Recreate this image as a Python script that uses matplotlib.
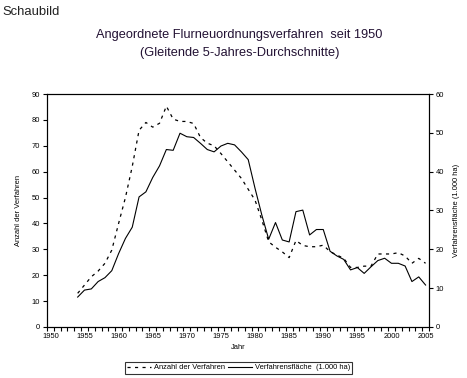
import numpy as np
import matplotlib
matplotlib.use("Agg")
import matplotlib.pyplot as plt

plt.rcParams['font.family'] = ['Liberation Sans', 'DejaVu Sans']

# Gleitende 5-Jahres-Durchschnitte
jahre = list(range(1954, 2006))
anzahl = [13.0, 16.2, 19.4, 21.6, 24.6, 29.7, 40.0, 50.0, 62.0, 76.0,
          79.0, 77.2, 78.7, 85.3, 80.3, 79.4, 79.4, 78.6, 73.2, 71.0,
          70.0, 67.0, 63.8, 60.6, 57.4, 53.2, 49.0, 41.3, 32.9, 30.8,
          29.0, 26.8, 33.4, 31.5, 31.0, 31.0, 31.6, 29.1, 27.8, 26.5,
          23.0, 23.0, 23.5, 23.5, 28.2, 28.2, 28.2, 28.7, 27.4, 24.6,
          26.5, 24.6]
flaeche = [7.7, 9.5, 9.8, 11.7, 12.7, 14.5, 18.9, 22.8, 25.7, 33.5,
           34.8, 38.5, 41.5, 45.7, 45.5, 49.9, 49.0, 48.8, 47.3, 45.7,
           45.1, 46.6, 47.3, 46.9, 45.1, 43.1, 35.7, 28.8, 22.6, 26.9,
           22.4, 21.9, 29.7, 30.1, 23.7, 25.1, 25.1, 19.5, 18.3, 17.4,
           14.7, 15.3, 13.8, 15.5, 17.1, 17.7, 16.4, 16.4, 15.7, 11.7,
           12.9, 10.8]
xlabels = list(range(1950, 2006, 5))

fig = plt.figure(figsize=(4.67, 3.78), dpi=100)
ax = fig.add_axes([0.1006, 0.135, 0.8180, 0.6163])
ax2 = ax.twinx()

l1, = ax.plot(jahre, anzahl, color='black', lw=0.9, dashes=(2.5, 3.5),
              label='Anzahl der Verfahren')
l2, = ax2.plot(jahre, flaeche, color='black', lw=0.8,
               label='Verfahrensfläche (1.000 ha)')

ax.set_xlim(1949.5, 2005.5)
ax.set_ylim(0, 90)
ax2.set_ylim(0, 60)
ax.set_yticks(range(0, 91, 10))
ax2.set_yticks(range(0, 61, 10))
ax.set_xticks(xlabels)
ax.set_xticks(np.arange(1949.5, 2006, 1), minor=True)

tf = 5.4
ax.tick_params(axis='x', which='major', length=0, labelsize=tf, pad=4)
ax.tick_params(axis='x', which='minor', length=3, width=0.8, direction='out')
ax.tick_params(axis='y', length=3, width=0.8, labelsize=tf, pad=2)
ax2.tick_params(axis='y', length=3, width=0.8, labelsize=tf, pad=2)

for a in (ax, ax2):
    for s in a.spines.values():
        s.set_linewidth(0.8)

ax.set_xlabel('Jahr', fontsize=tf, labelpad=3)
ax.set_ylabel('Anzahl der Verfahren', fontsize=tf, labelpad=7)
ax2.set_ylabel('Verfahrensfläche (1.000 ha)', fontsize=tf, rotation=90, labelpad=6)

fig.text(0.006, 0.968, 'Schaubild', fontsize=9.4, va='center', ha='left', color='#222222')
fig.text(0.513, 0.907, 'Angeordnete Flurneuordnungsverfahren  seit 1950',
         fontsize=9.2, ha='center', va='center', color='#221133')
fig.text(0.513, 0.861, '(Gleitende 5-Jahres-Durchschnitte)',
         fontsize=9.2, ha='center', va='center', color='#221133')

leg = fig.legend([l1, l2], ['Anzahl der Verfahren', 'Verfahrensfläche  (1.000 ha)'],
                 loc='center', bbox_to_anchor=(0.511, 0.027), ncol=2,
                 fontsize=tf, frameon=True, fancybox=False, handlelength=3.2,
                 columnspacing=0.5, handletextpad=0.3, borderpad=0.3)
leg.get_frame().set_edgecolor('black')
leg.get_frame().set_linewidth(0.8)

fig.savefig('out.png', dpi=100)
